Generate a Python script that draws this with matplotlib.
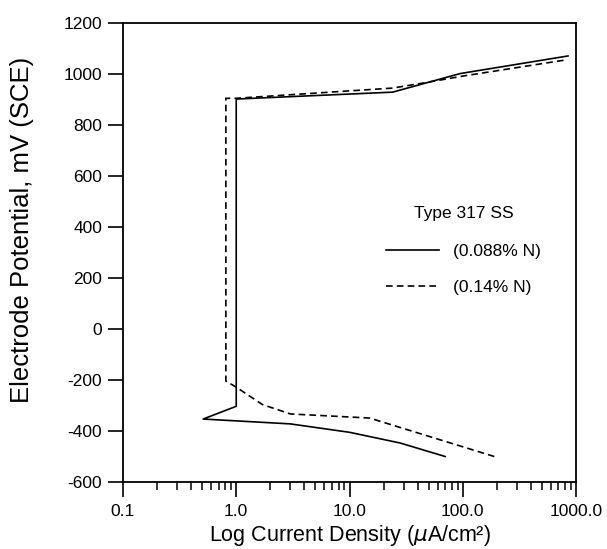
import numpy as np
import matplotlib
matplotlib.use("Agg")
import matplotlib.pyplot as plt
from matplotlib.ticker import FixedLocator, FixedFormatter, LogLocator, NullFormatter

plt.rcParams['font.family'] = ['Liberation Sans', 'DejaVu Sans']

# Polarisation curves, Type 317 SS (current in uA/cm2, potential in mV SCE)
i_088 = [70, 28, 10, 3.0, 0.51, 1.0, 1.0, 24, 95, 850]
e_088 = [-500, -447, -405, -372, -353, -303, 902, 929, 1002, 1071]

i_014 = [190, 15, 3.0, 1.7, 1.0, 0.81, 0.81, 1.0, 24, 45, 100, 800]
e_014 = [-500, -349, -333, -296, -228, -204, 905, 905, 945, 965, 992, 1055]

x_ticks = [0.1, 1.0, 10.0, 100.0, 1000.0]
x_labels = ["0.1", "1.0", "10.0", "100.0", "1000.0"]
y_ticks = list(range(-600, 1201, 200))

fig = plt.figure(figsize=(6.07, 5.49), dpi=100, facecolor='white')
ax = fig.add_axes([0.2026, 0.122, 0.7464, 0.836])

ax.plot(i_088, e_088, color='black', lw=1.2, ls='-', label='(0.088% N)')
ax.plot(i_014, e_014, color='black', lw=1.2, ls=(0, (4, 2.5)), label='(0.14% N)')

ax.set_xscale('log')
ax.set_xlim(0.1, 1000)
ax.set_ylim(-600, 1200)

ax.xaxis.set_major_locator(FixedLocator(x_ticks))
ax.xaxis.set_major_formatter(FixedFormatter(x_labels))
ax.xaxis.set_minor_locator(LogLocator(base=10, subs=np.arange(2, 10)))
ax.xaxis.set_minor_formatter(NullFormatter())
ax.set_yticks(y_ticks)
ax.set_yticklabels([str(v) for v in y_ticks])

# tick lengths are in points: ~15 px major, ~8 px minor
ax.tick_params(axis='both', which='major', direction='out', length=11, width=1.2,
               labelsize=12.5, top=False, right=False)
ax.tick_params(axis='x', which='major', pad=5)
ax.tick_params(axis='y', which='major', pad=4)
ax.tick_params(axis='x', which='minor', direction='out', length=5.8, width=1.1)
for s in ax.spines.values():
    s.set_linewidth(1.3)

ax.set_xlabel('Log Current Density ($\\mu$A/cm\u00b2)', fontsize=15.5, va='baseline')
ax.xaxis.set_label_coords(0.5, -0.1285)
ax.set_ylabel('Electrode Potential, mV (SCE)', fontsize=18.5)
ax.yaxis.set_label_coords(-0.197, 0.549)

ax.text(0.752, 0.586, 'Type 317 SS', transform=ax.transAxes, fontsize=12.5,
        ha='center', va='center')
ax.legend(loc='upper left', bbox_to_anchor=(0.561, 0.538), frameon=False,
          borderpad=0, fontsize=12.5, handlelength=3.05, handletextpad=0.8,
          labelspacing=1.2)

fig.savefig('out.png', dpi=100, facecolor='white')
